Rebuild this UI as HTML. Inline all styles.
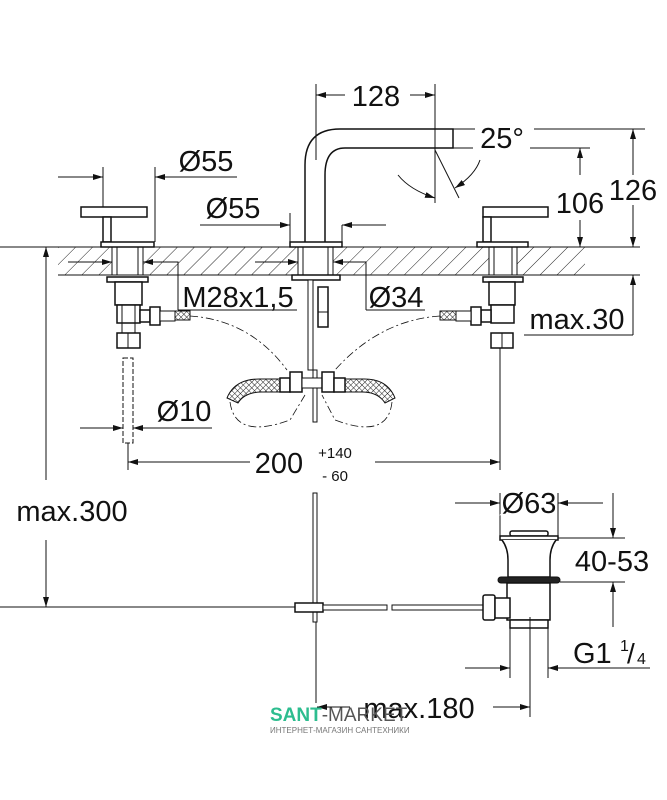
<!DOCTYPE html>
<html><head><meta charset="utf-8"><style>
html,body{margin:0;padding:0;background:#fff;width:667px;height:800px;overflow:hidden}
svg{display:block}
text{font-family:"Liberation Sans",Arial,sans-serif;fill:#111}
</style></head><body>
<svg width="667" height="800" viewBox="0 0 667 800" xmlns="http://www.w3.org/2000/svg">
<defs>
<pattern id="h" width="12" height="12" patternUnits="userSpaceOnUse" patternTransform="rotate(45)">
<line x1="0" y1="0" x2="0" y2="12" stroke="#222" stroke-width="1"/></pattern>
<pattern id="m" width="4" height="4" patternUnits="userSpaceOnUse" patternTransform="rotate(45)">
<rect width="4" height="4" fill="#fff"/><line x1="0" y1="0" x2="0" y2="4" stroke="#222" stroke-width="1"/><line x1="0" y1="0" x2="4" y2="0" stroke="#222" stroke-width="1"/></pattern>
<marker id="a" viewBox="0 0 10 6" refX="10" refY="3" markerWidth="10" markerHeight="6" orient="auto" markerUnits="userSpaceOnUse"><path d="M0,0L10,3L0,6z" fill="#111"/></marker>
</defs>
<g stroke="#111" stroke-width="1" fill="none">
<rect x="58" y="247" width="527" height="28" fill="url(#h)" stroke="none"/>
<line x1="0" y1="247" x2="640" y2="247"/><line x1="58" y1="275" x2="640" y2="275"/>
<rect x="112" y="247" width="31" height="28" fill="#fff"/>
<line x1="117" y1="247" x2="117" y2="275"/><line x1="138" y1="247" x2="138" y2="275"/>
<rect x="81" y="207" width="66" height="10" fill="#fff" stroke-width="1.5"/>
<rect x="103" y="217" width="8" height="25" fill="#fff" stroke-width="1.5"/>
<rect x="101" y="242" width="53" height="5" fill="#fff" stroke-width="1.5"/>
<rect x="107" y="277" width="41" height="5" fill="#fff" stroke-width="1.5"/>
<rect x="115" y="282" width="27" height="23" fill="#fff" stroke-width="1.5"/>
<rect x="117" y="305" width="23" height="18" fill="#fff" stroke-width="1.5"/>
<line x1="122" y1="305" x2="122" y2="333"/><line x1="135" y1="305" x2="135" y2="333"/>
<rect x="117" y="333" width="23" height="15" fill="#fff" stroke-width="1.5"/>
<line x1="128" y1="333" x2="128" y2="348"/>
<rect x="140" y="310" width="10" height="12" fill="#fff" stroke-width="1.5"/>
<rect x="150" y="307" width="10" height="18" fill="#fff" stroke-width="1.5"/>
<rect x="160" y="311" width="15" height="10" fill="#fff"/>
<rect x="175" y="311" width="15" height="9" fill="url(#m)"/>
<rect x="489" y="247" width="28" height="28" fill="#fff"/>
<line x1="494" y1="247" x2="494" y2="275"/><line x1="512" y1="247" x2="512" y2="275"/>
<rect x="483" y="207" width="65" height="10" fill="#fff" stroke-width="1.5"/>
<rect x="483" y="217" width="8" height="25" fill="#fff" stroke-width="1.5"/>
<rect x="477" y="242" width="51" height="5" fill="#fff" stroke-width="1.5"/>
<rect x="483" y="277" width="40" height="5" fill="#fff" stroke-width="1.5"/>
<rect x="489" y="282" width="26" height="23" fill="#fff" stroke-width="1.5"/>
<rect x="491" y="305" width="23" height="18" fill="#fff" stroke-width="1.5"/>
<rect x="491" y="333" width="22" height="15" fill="#fff" stroke-width="1.5"/>
<line x1="502" y1="333" x2="502" y2="348"/>
<rect x="481" y="310" width="10" height="12" fill="#fff" stroke-width="1.5"/>
<rect x="471" y="307" width="10" height="18" fill="#fff" stroke-width="1.5"/>
<rect x="456" y="311" width="15" height="10" fill="#fff"/>
<rect x="440" y="311" width="16" height="9" fill="url(#m)"/>
<path d="M305,242 V165 Q305,129 340,129 H453 V148 H345 Q325,148 325,175 V242" fill="#fff" stroke-width="1.5"/>
<rect x="298" y="247" width="35" height="28" fill="#fff"/>
<line x1="303" y1="247" x2="303" y2="275"/><line x1="328" y1="247" x2="328" y2="275"/>
<rect x="290" y="242" width="52" height="5" fill="#fff" stroke-width="1.5"/>
<rect x="292" y="275" width="48" height="5" fill="#fff" stroke-width="1.5"/>
<rect x="308" y="280" width="5" height="90" fill="#fff"/>
<rect x="313" y="370" width="4" height="52" fill="#fff"/>
<rect x="318" y="287" width="10" height="40" fill="#fff" stroke-width="1.5"/>
<line x1="318" y1="312" x2="328" y2="312"/>
<path d="M227,398 Q235,378 262,379 H280 V392 H262 Q245,392 238,403 Z" fill="url(#m)"/>
<path d="M395,398 Q387,378 362,379 H345 V392 H362 Q378,392 385,403 Z" fill="url(#m)"/>
<rect x="280" y="378" width="10" height="14" fill="#fff" stroke-width="1.5"/>
<rect x="290" y="372" width="12" height="20" fill="#fff" stroke-width="1.5"/>
<rect x="302" y="378" width="20" height="10" fill="#fff"/>
<rect x="322" y="372" width="12" height="20" fill="#fff" stroke-width="1.5"/>
<rect x="334" y="378" width="11" height="14" fill="#fff" stroke-width="1.5"/>
<g stroke-dasharray="8,3,2,3" stroke-width="0.8">
<path d="M190,316 Q250,320 287,370"/><path d="M440,316 Q380,320 335,370"/>
<path d="M230,402 Q235,440 290,420 L305,395"/><path d="M392,402 Q388,440 335,420 L322,395"/>
</g>
<rect x="123" y="358" width="10" height="85" stroke-dasharray="5,2"/>
<line x1="316" y1="84" x2="316" y2="160"/><line x1="435" y1="84" x2="435" y2="203"/>
<line x1="345" y1="95" x2="316" y2="95" marker-end="url(#a)"/>
<line x1="410" y1="95" x2="435" y2="95" marker-end="url(#a)"/>
<line x1="435" y1="150" x2="459" y2="198"/>
<line x1="453" y1="129" x2="475" y2="129"/><line x1="534" y1="129" x2="645" y2="129"/>
<line x1="453" y1="148" x2="473" y2="148"/><line x1="530" y1="148" x2="590" y2="148"/>
<path d="M398,175 Q410,190 435,198" marker-end="url(#a)"/>
<path d="M480,160 Q475,175 455,188" marker-end="url(#a)"/>
<line x1="580" y1="175" x2="580" y2="148" marker-end="url(#a)"/>
<line x1="580" y1="220" x2="580" y2="247" marker-end="url(#a)"/>
<line x1="633" y1="175" x2="633" y2="129" marker-end="url(#a)"/>
<line x1="633" y1="205" x2="633" y2="247" marker-end="url(#a)"/>
<line x1="103" y1="167" x2="103" y2="207"/><line x1="155" y1="167" x2="155" y2="242"/>
<line x1="58" y1="177" x2="103" y2="177" marker-end="url(#a)"/>
<line x1="237" y1="177" x2="155" y2="177" marker-end="url(#a)"/>
<line x1="290" y1="213" x2="290" y2="242"/><line x1="342" y1="225" x2="342" y2="242"/>
<line x1="200" y1="225" x2="290" y2="225" marker-end="url(#a)"/>
<line x1="386" y1="225" x2="342" y2="225" marker-end="url(#a)"/>
<line x1="68" y1="262" x2="112" y2="262" marker-end="url(#a)"/>
<polyline points="178,310 178,262 143,262" marker-end="url(#a)"/>
<line x1="178" y1="310" x2="297" y2="310"/>
<line x1="255" y1="262" x2="298" y2="262" marker-end="url(#a)"/>
<polyline points="366,310 366,262 333,262" marker-end="url(#a)"/>
<line x1="366" y1="310" x2="425" y2="310"/>
<line x1="633" y1="335" x2="633" y2="275" marker-end="url(#a)"/>
<line x1="524" y1="335" x2="633" y2="335"/>
<line x1="80" y1="428" x2="123" y2="428" marker-end="url(#a)"/>
<line x1="212" y1="428" x2="133" y2="428" marker-end="url(#a)"/>
<line x1="128" y1="443" x2="128" y2="470"/><line x1="500" y1="348" x2="500" y2="470"/>
<line x1="250" y1="462" x2="128" y2="462" marker-end="url(#a)"/>
<line x1="375" y1="462" x2="500" y2="462" marker-end="url(#a)"/>
<line x1="46" y1="480" x2="46" y2="247" marker-end="url(#a)"/>
<line x1="46" y1="540" x2="46" y2="607" marker-end="url(#a)"/>
<line x1="0" y1="607" x2="296" y2="607"/>
<rect x="313" y="493" width="4" height="129" fill="#fff"/>
<line x1="316" y1="622" x2="316" y2="703"/>
<rect x="295" y="603" width="28" height="9" fill="#fff" stroke-width="1.5"/>
<rect x="323" y="605" width="64" height="5" fill="#fff"/>
<rect x="392" y="605" width="91" height="5" fill="#fff"/>
<rect x="483" y="595" width="12" height="25" rx="2" fill="#fff" stroke-width="1.5"/>
<rect x="510" y="531" width="38" height="5" rx="2" fill="#fff" stroke-width="1.5"/>
<rect x="500" y="536" width="58" height="4" fill="#fff" stroke-width="1.5"/>
<path d="M502,540 Q508,548 508,560 V577 H550 V560 Q550,548 556,540" fill="#fff" stroke-width="1.5"/>
<rect x="498" y="577" width="62" height="6" rx="3" fill="#222"/>
<rect x="507" y="583" width="43" height="37" fill="#fff" stroke-width="1.5"/>
<rect x="495" y="598" width="15" height="20" fill="#fff" stroke-width="1.5"/>
<rect x="510" y="620" width="38" height="8" fill="#fff" stroke-width="1.5"/>
<line x1="510" y1="628" x2="510" y2="678"/><line x1="548" y1="628" x2="548" y2="678"/>
<line x1="530" y1="617" x2="530" y2="717"/>
<line x1="500" y1="493" x2="500" y2="536"/><line x1="558" y1="493" x2="558" y2="536"/>
<line x1="455" y1="503" x2="500" y2="503" marker-end="url(#a)"/>
<line x1="603" y1="503" x2="558" y2="503" marker-end="url(#a)"/>
<line x1="558" y1="538" x2="625" y2="538"/><line x1="560" y1="582" x2="625" y2="582"/>
<line x1="613" y1="493" x2="613" y2="538" marker-end="url(#a)"/>
<line x1="613" y1="627" x2="613" y2="582" marker-end="url(#a)"/>
<line x1="465" y1="668" x2="510" y2="668" marker-end="url(#a)"/>
<line x1="650" y1="668" x2="548" y2="668" marker-end="url(#a)"/>
<line x1="493" y1="707" x2="530" y2="707" marker-end="url(#a)"/>
<line x1="350" y1="707" x2="317" y2="707" marker-end="url(#a)"/>
</g>
<g font-size="29">
<text x="376" y="106" text-anchor="middle">128</text>
<text x="502" y="148" text-anchor="middle">25°</text>
<text x="580" y="213" text-anchor="middle" style="paint-order:stroke" stroke="#fff" stroke-width="4">106</text>
<text x="633" y="200" text-anchor="middle" style="paint-order:stroke" stroke="#fff" stroke-width="4">126</text>
<text x="206" y="171" text-anchor="middle">Ø55</text>
<text x="233" y="218" text-anchor="middle">Ø55</text>
<text x="238" y="307" text-anchor="middle">M28x1,5</text>
<text x="396" y="307" text-anchor="middle">Ø34</text>
<text x="577" y="329" text-anchor="middle">max.30</text>
<text x="184" y="421" text-anchor="middle">Ø10</text>
<text x="279" y="473" text-anchor="middle">200</text>
<text x="72" y="521" text-anchor="middle">max.300</text>
<text x="529" y="513" text-anchor="middle" style="paint-order:stroke" stroke="#fff" stroke-width="3">Ø63</text>
<text x="612" y="571" text-anchor="middle" style="paint-order:stroke" stroke="#fff" stroke-width="4">40-53</text>
<text x="573" y="663">G1</text>
<text x="419" y="718" text-anchor="middle">max.180</text>
</g>
<text x="335" y="458" text-anchor="middle" font-size="15">+140</text>
<text x="335" y="481" text-anchor="middle" font-size="15">-  60</text>
<text x="620" y="651" font-size="16">1</text>
<text x="627" y="663" font-size="28">/</text>
<text x="637" y="664" font-size="16">4</text>
<text x="270" y="721" font-size="19" font-weight="bold" style="fill:#2dbd8f">SANT<tspan style="fill:#555" font-weight="normal">-MARKET</tspan></text>
<text x="270" y="733" font-size="8" style="fill:#777">ИНТЕРНЕТ-МАГАЗИН САНТЕХНИКИ</text>
</svg>
</body></html>
